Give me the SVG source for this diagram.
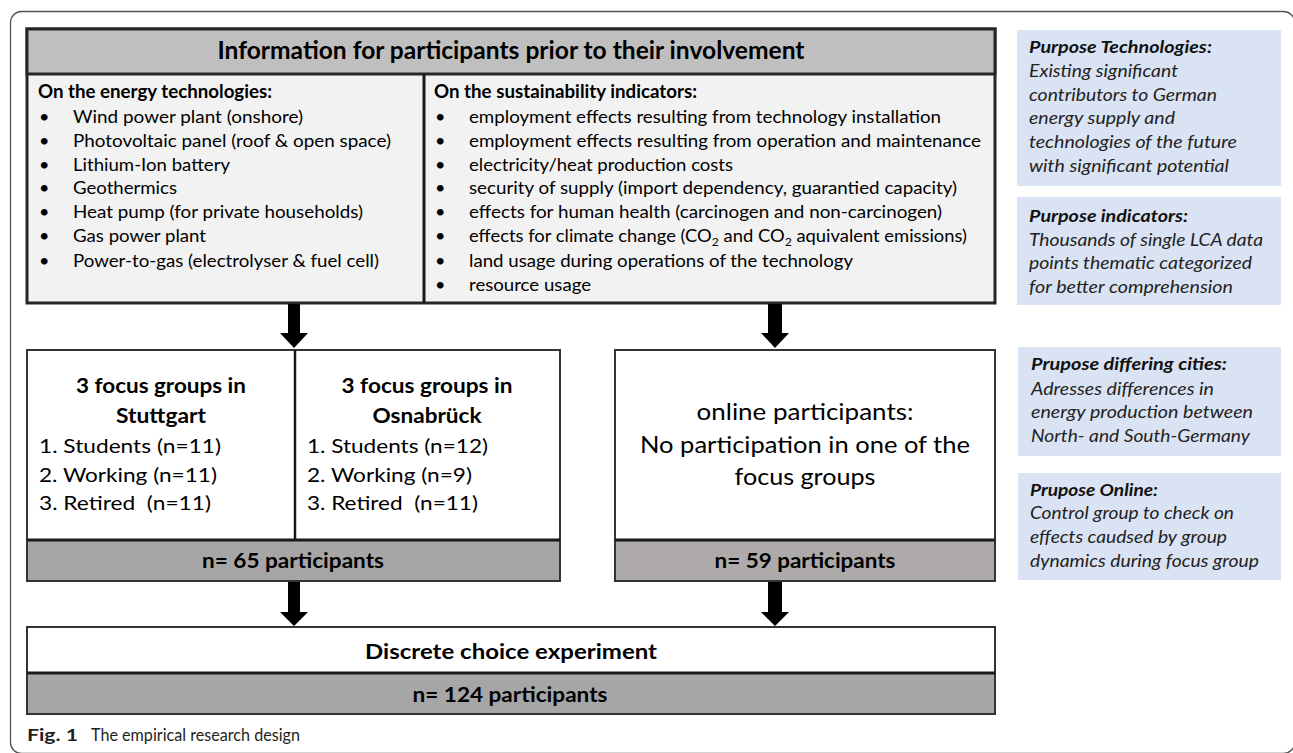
<svg xmlns="http://www.w3.org/2000/svg" width="1293" height="753" viewBox="0 0 1293 753">
<style>
text{font-family:Lato,"Open Sans","Liberation Sans",sans-serif;fill:#000}
.hd{font-size:24px;font-weight:bold}
.b18{font-size:18px;font-weight:bold}
.t18{font-size:18px}
.b20{font-size:20px;font-weight:bold}
.t20{font-size:20px}
.t24{font-size:24px}
.pb{font-size:17px;font-weight:bold;font-style:italic;fill:#111}
.pi{font-size:17px;font-style:italic;fill:#222}
.mid{text-anchor:middle}
.frame{fill:none;stroke:#555;stroke-width:1.3}
.box{stroke:#262626;stroke-width:3}
.mbox{fill:#fff;stroke:#333;stroke-width:2}
.sep{stroke:#1a1a1a;stroke-width:3}
.purp{fill:#dae3f3}
.arrow{fill:#000}
.cap{font-size:17px;fill:#231f20}
</style>
<rect class="frame" x="10.5" y="11.5" width="1284" height="742" rx="11"/>

<g id="info-box">
<rect x="27" y="29" width="968" height="274" fill="#f2f2f2" class="box"/>
<rect x="27" y="29" width="968" height="45" fill="#bfbfbf" class="box"/>
<line x1="424" y1="74" x2="424" y2="303" class="sep" stroke-width="2"/>
<text class="hd mid" x="511" y="59" textLength="587" lengthAdjust="spacingAndGlyphs">Information for participants prior to their involvement</text>
<text class="b18" x="38" y="98" textLength="234" lengthAdjust="spacingAndGlyphs">On the energy technologies:</text>
<g class="t18">
<text x="39" y="123">•</text><text x="73" y="123" class="t18" textLength="230" lengthAdjust="spacingAndGlyphs">Wind power plant (onshore)</text>
<text x="39" y="147">•</text><text x="73" y="147" class="t18" textLength="318" lengthAdjust="spacingAndGlyphs">Photovoltaic panel (roof &amp; open space)</text>
<text x="39" y="171">•</text><text x="73" y="171" class="t18" textLength="157" lengthAdjust="spacingAndGlyphs">Lithium-Ion battery</text>
<text x="39" y="194">•</text><text x="73" y="194" class="t18" textLength="104" lengthAdjust="spacingAndGlyphs">Geothermics</text>
<text x="39" y="218">•</text><text x="73" y="218" class="t18" textLength="290" lengthAdjust="spacingAndGlyphs">Heat pump (for private households)</text>
<text x="39" y="242">•</text><text x="73" y="242" class="t18" textLength="133" lengthAdjust="spacingAndGlyphs">Gas power plant</text>
<text x="39" y="267">•</text><text x="73" y="267" class="t18" textLength="306" lengthAdjust="spacingAndGlyphs">Power-to-gas (electrolyser &amp; fuel cell)</text>
</g>
<text class="b18" x="434" y="98" textLength="263" lengthAdjust="spacingAndGlyphs">On the sustainability indicators:</text>
<g class="t18">
<text x="435" y="123" class="t18">•</text><text x="469" y="123" class="t18" textLength="472" lengthAdjust="spacingAndGlyphs">employment effects resulting from technology installation</text>
<text x="435" y="147" class="t18">•</text><text x="469" y="147" class="t18" textLength="512" lengthAdjust="spacingAndGlyphs">employment effects resulting from operation and maintenance</text>
<text x="435" y="171" class="t18">•</text><text x="469" y="171" class="t18" textLength="264" lengthAdjust="spacingAndGlyphs">electricity/heat production costs</text>
<text x="435" y="194" class="t18">•</text><text x="469" y="194" class="t18" textLength="488" lengthAdjust="spacingAndGlyphs">security of supply (import dependency, guarantied capacity)</text>
<text x="435" y="218" class="t18">•</text><text x="469" y="218" class="t18" textLength="473" lengthAdjust="spacingAndGlyphs">effects for human health (carcinogen and non-carcinogen)</text>
<text x="435" y="242" class="t18">•</text><text x="469" y="242" class="t18" textLength="498" lengthAdjust="spacingAndGlyphs">effects for climate change (CO<tspan font-size="12" dy="4">2</tspan><tspan dy="-4"> and CO</tspan><tspan font-size="12" dy="4">2</tspan><tspan dy="-4"> aquivalent emissions)</tspan></text>
<text x="435" y="267" class="t18">•</text><text x="469" y="267" class="t18" textLength="384" lengthAdjust="spacingAndGlyphs">land usage during operations of the technology</text>
<text x="435" y="291" class="t18">•</text><text x="469" y="291" class="t18" textLength="122" lengthAdjust="spacingAndGlyphs">resource usage</text>
</g>
</g>

<g id="purpose-technologies">
<rect class="purp" x="1017" y="30" width="264" height="156"/>
<text class="pb" x="1029" y="53" textLength="183" lengthAdjust="spacingAndGlyphs">Purpose Technologies:</text>
<text class="pi" x="1029" y="77" textLength="149" lengthAdjust="spacingAndGlyphs">Existing significant</text>
<text class="pi" x="1029" y="101" textLength="188" lengthAdjust="spacingAndGlyphs">contributors to German</text>
<text class="pi" x="1029" y="124" textLength="146" lengthAdjust="spacingAndGlyphs">energy supply and</text>
<text class="pi" x="1029" y="148" textLength="208" lengthAdjust="spacingAndGlyphs">technologies of the future</text>
<text class="pi" x="1029" y="172" textLength="200" lengthAdjust="spacingAndGlyphs">with significant potential</text>
</g>
<g id="purpose-indicators">
<rect class="purp" x="1017" y="197" width="264" height="108"/>
<text class="pb" x="1029" y="222" textLength="159" lengthAdjust="spacingAndGlyphs">Purpose indicators:</text>
<text class="pi" x="1029" y="246" textLength="234" lengthAdjust="spacingAndGlyphs">Thousands of single LCA data</text>
<text class="pi" x="1029" y="269" textLength="223" lengthAdjust="spacingAndGlyphs">points thematic categorized</text>
<text class="pi" x="1029" y="293" textLength="204" lengthAdjust="spacingAndGlyphs">for better comprehension</text>
</g>
<g id="purpose-cities">
<rect class="purp" x="1018" y="347" width="263" height="109"/>
<text class="pb" x="1031" y="370" textLength="196" lengthAdjust="spacingAndGlyphs">Prupose differing cities:</text>
<text class="pi" x="1031" y="395" textLength="183" lengthAdjust="spacingAndGlyphs">Adresses differences in</text>
<text class="pi" x="1031" y="418" textLength="222" lengthAdjust="spacingAndGlyphs">energy production between</text>
<text class="pi" x="1031" y="442" textLength="219" lengthAdjust="spacingAndGlyphs">North- and South-Germany</text>
</g>
<g id="purpose-online">
<rect class="purp" x="1018" y="473" width="263" height="107"/>
<text class="pb" x="1030" y="496" textLength="128" lengthAdjust="spacingAndGlyphs">Prupose Online:</text>
<text class="pi" x="1030" y="519" textLength="204" lengthAdjust="spacingAndGlyphs">Control group to check on</text>
<text class="pi" x="1030" y="543" textLength="197" lengthAdjust="spacingAndGlyphs">effects caudsed by group</text>
<text class="pi" x="1030" y="567" textLength="229" lengthAdjust="spacingAndGlyphs">dynamics during focus group</text>
</g>

<g id="focus-groups">
<rect class="mbox" x="27" y="350" width="533" height="231"/>
<rect x="27" y="540" width="533" height="41" fill="#a6a6a6" stroke="#333" stroke-width="2"/>
<line class="sep" x1="27" y1="540" x2="560" y2="540"/>
<line x1="295" y1="350" x2="295" y2="540" stroke="#1a1a1a" stroke-width="2.5"/>
<text class="b20 mid" x="161" y="393" textLength="170" lengthAdjust="spacingAndGlyphs">3 focus groups in</text>
<text class="b20 mid" x="161" y="423" textLength="90" lengthAdjust="spacingAndGlyphs">Stuttgart</text>
<text class="t20" x="39" y="453" textLength="182" lengthAdjust="spacingAndGlyphs">1. Students (n=11)</text>
<text class="t20" x="39" y="482" textLength="178" lengthAdjust="spacingAndGlyphs">2. Working (n=11)</text>
<text class="t20" x="39" y="510" textLength="172" lengthAdjust="spacingAndGlyphs" xml:space="preserve">3. Retired  (n=11)</text>
<text class="b20 mid" x="427" y="393" textLength="171" lengthAdjust="spacingAndGlyphs">3 focus groups in</text>
<text class="b20 mid" x="427" y="423" textLength="109" lengthAdjust="spacingAndGlyphs">Osnabrück</text>
<text class="t20" x="307" y="453" textLength="181" lengthAdjust="spacingAndGlyphs">1. Students (n=12)</text>
<text class="t20" x="307" y="482" textLength="165" lengthAdjust="spacingAndGlyphs">2. Working (n=9)</text>
<text class="t20" x="307" y="510" textLength="171" lengthAdjust="spacingAndGlyphs" xml:space="preserve">3. Retired  (n=11)</text>
<text class="b20 mid" x="293" y="568" textLength="182" lengthAdjust="spacingAndGlyphs">n= 65 participants</text>
</g>

<g id="online">
<rect class="mbox" x="615" y="350" width="380" height="231"/>
<rect x="615" y="540" width="380" height="41" fill="#aeaaaa" stroke="#333" stroke-width="2"/>
<line class="sep" x1="615" y1="540" x2="995" y2="540"/>
<text class="t24 mid" x="805" y="420" textLength="217" lengthAdjust="spacingAndGlyphs">online participants:</text>
<text class="t24 mid" x="805" y="453" textLength="330" lengthAdjust="spacingAndGlyphs">No participation in one of the</text>
<text class="t24 mid" x="805" y="485" textLength="141" lengthAdjust="spacingAndGlyphs">focus groups</text>
<text class="b20 mid" x="805" y="568" textLength="181" lengthAdjust="spacingAndGlyphs">n= 59 participants</text>
</g>

<g id="dce">
<rect class="mbox" x="27" y="627" width="968" height="87"/>
<rect x="27" y="673" width="968" height="41" fill="#a6a6a6" stroke="#333" stroke-width="2"/>
<line class="sep" x1="27" y1="673" x2="995" y2="673"/>
<text class="b20 mid" x="511" y="659" font-size="21" textLength="292" lengthAdjust="spacingAndGlyphs">Discrete choice experiment</text>
<text class="b20 mid" x="510" y="702" textLength="195" lengthAdjust="spacingAndGlyphs">n= 124 participants</text>
</g>

<g id="connectors">
<polygon class="arrow" points="288,304 300,304 300,333 308,333 294,348 280,333 288,333"/>
<polygon class="arrow" points="768,304 782,304 782,333 789,333 775,348 761,333 768,333"/>
<polygon class="arrow" points="288,582 300,582 300,612 308,612 294,626 280,612 288,612"/>
<polygon class="arrow" points="768,582 782,582 782,612 789,612 775,626 761,612 768,612"/>
</g>

<g id="caption">
<text class="cap" x="27" y="741" font-weight="bold" textLength="51" lengthAdjust="spacingAndGlyphs">Fig. 1</text>
<text class="cap" x="91" y="741" textLength="209" lengthAdjust="spacingAndGlyphs">The empirical research design</text>
</g>
</svg>
